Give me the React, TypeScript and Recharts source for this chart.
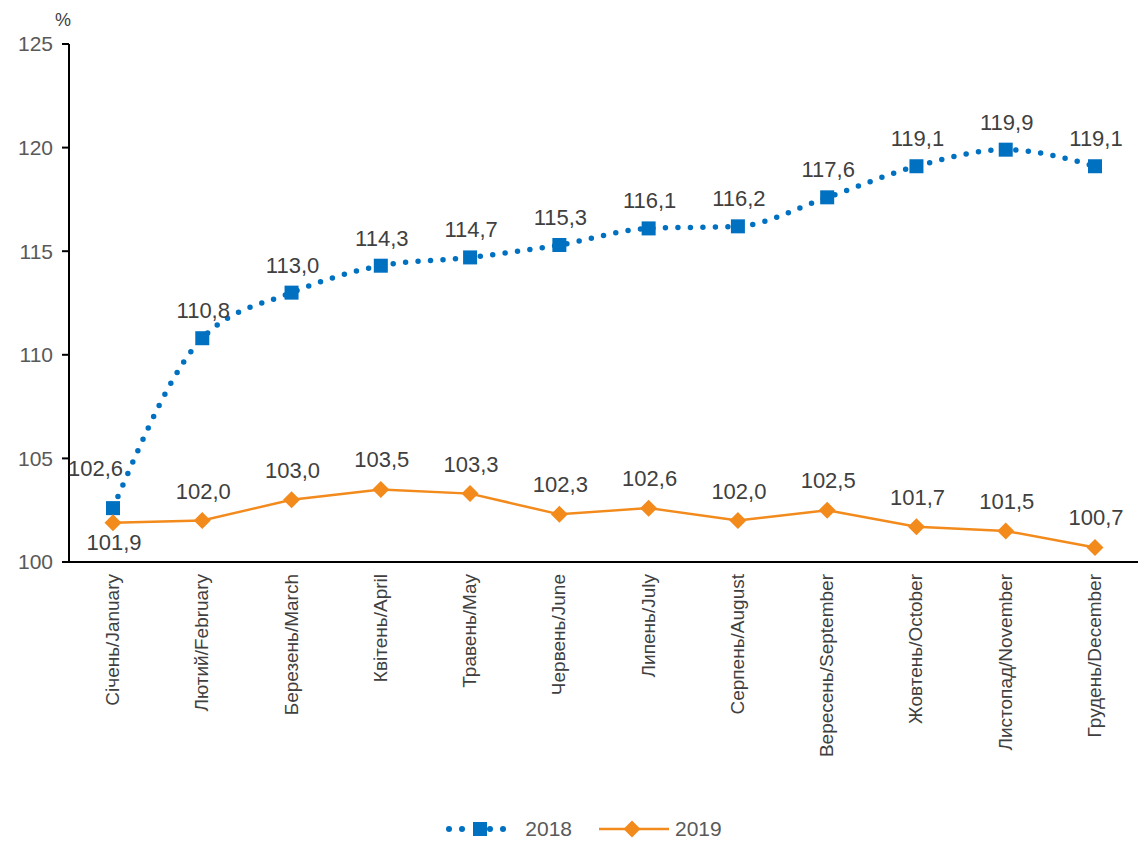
import React from 'react';
import { LineChart, Line, XAxis, YAxis, Legend, LabelList } from 'recharts';

const months = [
  'Січень/January', 'Лютий/February', 'Березень/March', 'Квітень/April',
  'Травень/May', 'Червень/June', 'Липень/July', 'Серпень/August',
  'Вересень/September', 'Жовтень/October', 'Листопад/November', 'Грудень/December',
];
const values2018 = [102.6, 110.8, 113.0, 114.3, 114.7, 115.3, 116.1, 116.2, 117.6, 119.1, 119.9, 119.1];
const values2019 = [101.9, 102.0, 103.0, 103.5, 103.3, 102.3, 102.6, 102.0, 102.5, 101.7, 101.5, 100.7];
const yTicks = [100, 105, 110, 115, 120, 125];

const BLUE = '#0070C0';
const ORANGE = '#F28A1C';
const FONT = '"Liberation Sans", Arial, sans-serif';

const data = months.map((m, i) => ({ name: m, y2018: values2018[i], y2019: values2019[i] }));

const fmt = (v: number) => v.toFixed(1).replace('.', ',');

const SquareDot = (props: any) => {
  const { cx, cy, index } = props;
  if (cx == null || cy == null) return null;
  return <rect key={`sq-${index}`} x={cx - 7} y={cy - 7} width={14} height={14} fill={BLUE} />;
};

const DiamondDot = (props: any) => {
  const { cx, cy, index } = props;
  if (cx == null || cy == null) return null;
  const r = 8.5;
  return (
    <path
      key={`dm-${index}`}
      d={`M${cx},${cy - r} L${cx + r},${cy} L${cx},${cy + r} L${cx - r},${cy} Z`}
      fill={ORANGE}
    />
  );
};

const Label2018 = (props: any) => {
  const { x, y, value, index } = props;
  if (index === 0) {
    return (
      <text x={x + 10} y={y - 32} textAnchor="end" fontSize={22} fill="#404040">
        {fmt(value)}
      </text>
    );
  }
  return (
    <text x={x + 1} y={y - 20} textAnchor="middle" fontSize={22} fill="#404040">
      {fmt(value)}
    </text>
  );
};

const Label2019 = (props: any) => {
  const { x, y, value, index } = props;
  const below = index === 0;
  return (
    <text x={x + 1} y={below ? y + 27 : y - 22} textAnchor="middle" fontSize={22} fill="#404040">
      {fmt(value)}
    </text>
  );
};

const MonthTick = (props: any) => {
  const { x, y, payload } = props;
  return (
    <text
      x={x}
      y={y}
      transform={`rotate(-90, ${x}, ${y})`}
      dx={-4}
      dy={6}
      textAnchor="end"
      fontSize={19}
      fill="#404040"
    >
      {payload.value}
    </text>
  );
};

const LegendContent = () => (
  <div style={{ display: 'flex', justifyContent: 'center', alignItems: 'center', paddingLeft: 29, fontSize: 21, color: '#595959' }}>
    <svg width={62} height={20} style={{ marginRight: 18 }}>
      <circle cx={4} cy={10} r={3} fill={BLUE} />
      <circle cx={17} cy={10} r={3} fill={BLUE} />
      <rect x={28} y={3} width={14} height={14} fill={BLUE} />
      <circle cx={45} cy={10} r={3} fill={BLUE} />
      <circle cx={58} cy={10} r={3} fill={BLUE} />
    </svg>
    <span style={{ marginRight: 27 }}>2018</span>
    <svg width={70} height={20} style={{ marginRight: 6 }}>
      <line x1={0} y1={10} x2={70} y2={10} stroke={ORANGE} strokeWidth={2.5} />
      <path d="M33,1.5 L41.5,10 L33,18.5 L24.5,10 Z" fill={ORANGE} />
    </svg>
    <span>2019</span>
  </div>
);

export default function App() {
  return (
    <div style={{ position: 'absolute', left: 0, top: 0, width: 1138, height: 845, fontFamily: FONT, background: '#fff' }}>
      <div style={{ position: 'absolute', left: 55, top: 10, fontSize: 18, color: '#404040' }}>%</div>
      <LineChart width={1138} height={845} data={data} margin={{ top: 44, right: 0, left: 0, bottom: 4 }}>
        <XAxis
          dataKey="name"
          interval={0}
          tickLine={false}
          axisLine={{ stroke: '#000', strokeWidth: 2 }}
          height={255}
          padding={{ left: 44, right: 43 }}
          tick={<MonthTick />}
        />
        <YAxis
          domain={[100, 125]}
          ticks={yTicks}
          width={69}
          axisLine={{ stroke: '#000', strokeWidth: 2 }}
          tickLine={{ stroke: '#000', strokeWidth: 2 }}
          tickSize={7}
          tickMargin={9}
          tick={{ fontSize: 21, fill: '#595959' }}
        />
        <Legend verticalAlign="bottom" height={24} content={<LegendContent />} />
        <Line
          type="monotone"
          dataKey="y2018"
          name="2018"
          stroke={BLUE}
          strokeWidth={5.5}
          strokeDasharray="0 12.5"
          strokeLinecap="round"
          dot={<SquareDot />}
          activeDot={false}
          isAnimationActive={false}
        >
          <LabelList dataKey="y2018" content={<Label2018 />} />
        </Line>
        <Line
          type="linear"
          dataKey="y2019"
          name="2019"
          stroke={ORANGE}
          strokeWidth={2.5}
          dot={<DiamondDot />}
          activeDot={false}
          isAnimationActive={false}
        >
          <LabelList dataKey="y2019" content={<Label2019 />} />
        </Line>
      </LineChart>
    </div>
  );
}
